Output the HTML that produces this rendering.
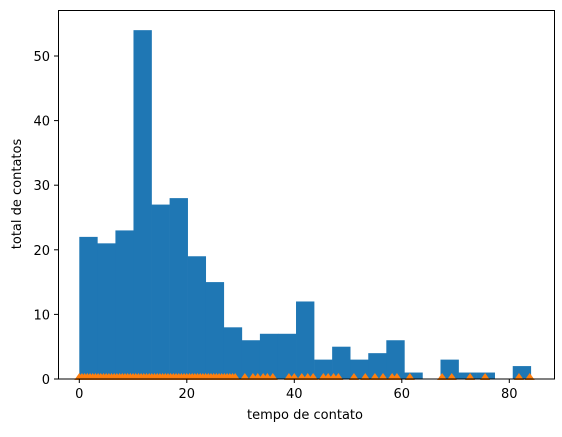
<!DOCTYPE html>
<html><head><meta charset="utf-8"><style>
body{margin:0;background:#fff;}
text{font-family:"DejaVu Sans","Liberation Sans",sans-serif;font-size:13px;fill:#000;}
</style></head><body>
<svg id="chart" width="562" height="432" xmlns="http://www.w3.org/2000/svg">
<g id="bars"></g>
<g id="markers"></g>
<rect x="58.5" y="10.5" width="496" height="368.5" fill="none" stroke="#000" stroke-width="1"/>
<g id="xticks"></g>
<g id="yticks"></g>
<text x="305" y="419" text-anchor="middle">tempo de contato</text>
<text transform="translate(21,194) rotate(-90)" text-anchor="middle">total de contatos</text>
</svg>
<script>
const binStart = 0;
const binWidth = 3.36;
const counts = [22,21,23,54,27,28,19,15,8,6,7,7,12,3,5,3,4,6,1,0,3,1,1,0,2];
const points = [];
for (let v = 0; v <= 29; v += 0.5) points.push(v);
const extraPoints = [30.8,32.3,33.2,34.2,35,36,39,40,41.4,42.5,43.5,45.4,46.3,47.3,48.2,51.1,53.2,55,56.5,58.2,59.1,61.5,67.5,69.3,72.7,75.5,81.8,83.8];
const xTicks = [0,20,40,60,80];
const yTicks = [0,10,20,30,40,50];

const NS = "http://www.w3.org/2000/svg";
const xs = v => 79.3 + v * 5.375;
const ys = v => 379 - v * 6.46;
const bars = document.getElementById('bars');
counts.forEach((c, i) => {
  if (c === 0) return;
  const r = document.createElementNS(NS, 'rect');
  const x0 = xs(binStart + i * binWidth), x1 = xs(binStart + (i + 1) * binWidth);
  r.setAttribute('x', x0); r.setAttribute('width', x1 - x0 + 0.3);
  r.setAttribute('y', ys(c)); r.setAttribute('height', ys(0) - ys(c));
  r.setAttribute('fill', '#1f77b4');
  
  
  bars.appendChild(r);
});
const mk = document.getElementById('markers');
points.concat(extraPoints).forEach(v => {
  const p = document.createElementNS(NS, 'polygon');
  const cx = xs(v), cy = ys(0);
  p.setAttribute('points', `${cx},${cy-6} ${cx-5},${cy+1} ${cx+5},${cy+1}`);
  p.setAttribute('fill', '#ff7f0e');
  
  
  mk.appendChild(p);
});
const xt = document.getElementById('xticks');
xTicks.forEach(t => {
  const x = xs(t);
  const l = document.createElementNS(NS, 'line');
  l.setAttribute('x1', x); l.setAttribute('x2', x); l.setAttribute('y1', 379); l.setAttribute('y2', 383);
  l.setAttribute('stroke', '#000');
  
  
  xt.appendChild(l);
  const tx = document.createElementNS(NS, 'text');
  tx.setAttribute('x', x); tx.setAttribute('y', 398); tx.setAttribute('text-anchor', 'middle');
  tx.textContent = t;
  
  
  xt.appendChild(tx);
});
const yt = document.getElementById('yticks');
yTicks.forEach(t => {
  const y = ys(t);
  const l = document.createElementNS(NS, 'line');
  l.setAttribute('x1', 54); l.setAttribute('x2', 58); l.setAttribute('y1', y); l.setAttribute('y2', y);
  l.setAttribute('stroke', '#000');
  
  
  yt.appendChild(l);
  const tx = document.createElementNS(NS, 'text');
  tx.setAttribute('x', 50); tx.setAttribute('y', y + 5); tx.setAttribute('text-anchor', 'end');
  tx.textContent = t;
  
  
  yt.appendChild(tx);
});
</script>
</body></html>
